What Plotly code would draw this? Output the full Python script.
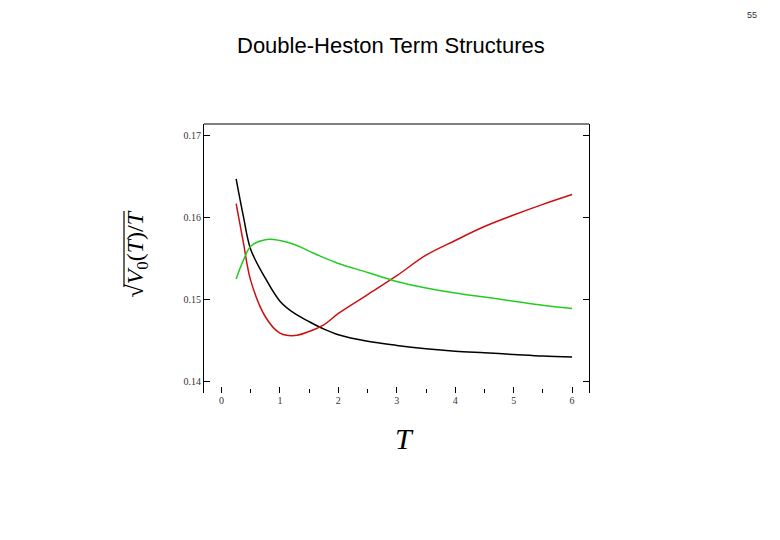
import plotly.graph_objects as go

# ── Datos ────────────────────────────────────────────────────────────────────
T = [0.25, 0.375, 0.5, 0.75, 1.0, 1.25, 1.5, 1.75, 2.0, 2.5, 3.0, 3.5, 4.0, 4.5, 5.0, 5.5, 6.0]

negro = [0.1647, 0.1601, 0.1561, 0.1526, 0.1498, 0.1483, 0.1473, 0.1464, 0.1457, 0.1449,
         0.1444, 0.1440, 0.1437, 0.1435, 0.1433, 0.1431, 0.1430]
rojo = [0.1617, 0.1569, 0.1523, 0.1479, 0.1459, 0.1456, 0.1461, 0.1469, 0.1483, 0.1506,
        0.1529, 0.1554, 0.1572, 0.1589, 0.1603, 0.1616, 0.1628]
verde = [0.1525, 0.1548, 0.1565, 0.1573, 0.1572, 0.1567, 0.1559, 0.1551, 0.1544, 0.1533,
         0.1522, 0.1514, 0.1508, 0.1503, 0.1498, 0.1493, 0.1489]

xticks = [0, 1, 2, 3, 4, 5, 6]
yticks = [0.14, 0.15, 0.16, 0.17]

TITULO = "Double-Heston Term Structures"
PAGINA = "55"
ETIQUETA_Y = "√<i>V</i><sub>0</sub>(<i>T</i>)/<i>T</i>"

fig = go.Figure()
for y, color in [(negro, "#000000"), (rojo, "#cc1010"), (verde, "#22cc22")]:
    fig.add_trace(go.Scatter(x=T, y=y, mode="lines", line_shape="spline",
                             line=dict(color=color, width=1.5), showlegend=False))

# la página tiene 8 px de margen en el body: se descuentan aquí
fig.update_layout(
    width=772, height=532,
    plot_bgcolor="white", paper_bgcolor="white",
    margin=dict(l=196, r=191, t=116, b=147),
    xaxis=dict(range=[-0.3, 6.29], tickvals=xticks, ticks="inside", ticklen=6,
               tickcolor="#000", showgrid=False, zeroline=False, showline=False,
               minor=dict(ticks="inside", ticklen=4, tickvals=[0.5, 1.5, 2.5, 3.5, 4.5, 5.5],
                          tickcolor="#000", showgrid=False),
               tickfont=dict(family="Liberation Serif", size=10, color="#333")),
    yaxis=dict(range=[0.1386, 0.1714], tickvals=yticks, ticks="inside", ticklen=6,
               tickcolor="#000", tickformat=".2f", showgrid=False, zeroline=False,
               showline=True, mirror="ticks", linecolor="#000", linewidth=1.2,
               tickfont=dict(family="Liberation Serif", size=10, color="#333")),
    shapes=[
        dict(type="line", xref="paper", yref="paper", x0=0, x1=1, y0=1, y1=1,
             line=dict(color="#000", width=1.2)),
        # barra de la raíz cuadrada
        dict(type="line", xref="paper", yref="paper", x0=-0.2078, x1=-0.2078,
             y0=0.394, y1=0.6766, line=dict(color="#000", width=1.2)),
    ],
    annotations=[
        dict(text=TITULO, xref="paper", yref="paper", x=0.5, y=1, xshift=-6, yshift=79,
             showarrow=False, xanchor="center", yanchor="middle",
             font=dict(family="Liberation Sans", size=22, color="#000")),
        dict(text=PAGINA, xref="paper", yref="paper", x=1, y=1, xshift=163, yshift=109,
             showarrow=False, xanchor="center", yanchor="middle",
             font=dict(family="Liberation Sans", size=9, color="#333")),
        dict(text=ETIQUETA_Y, xref="paper", yref="paper", x=0, y=0.5, xshift=-68, yshift=4,
             textangle=-90, showarrow=False, xanchor="center", yanchor="middle",
             font=dict(family="Liberation Serif", size=24, color="#000")),
        dict(text="<i>T</i>", xref="paper", yref="paper", x=0.5, y=0, xshift=8, yshift=-45,
             showarrow=False, xanchor="center", yanchor="middle",
             font=dict(family="Liberation Serif", size=30, color="#000")),
    ],
)

fig.write_html("out.html")
